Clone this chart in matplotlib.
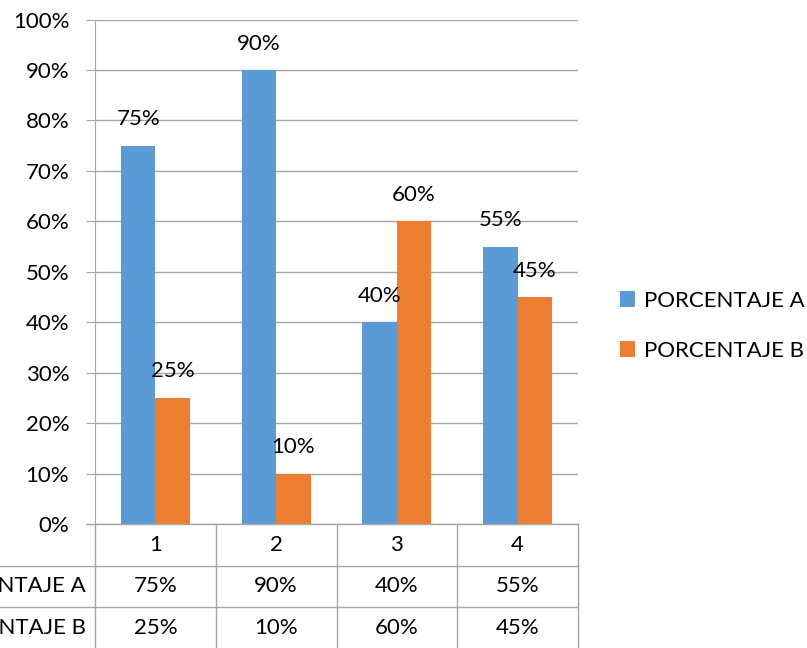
import matplotlib.pyplot as plt
import numpy as np

plt.rcParams['font.family'] = ['Lato', 'DejaVu Sans']

categorias = ['1', '2', '3', '4']
serie_a = [75, 90, 40, 55]
serie_b = [25, 10, 60, 45]
nombres = ['PORCENTAJE A', 'PORCENTAJE B']
colores = ['#5B9BD5', '#ED7D31']
gris = '#A6A6A6'
fs = 16

fig = plt.figure(figsize=(8.07, 6.48), dpi=100)
W, H = 807, 648
x0, x1, y0, y1 = 95, 578, 524, 19.5
ax = fig.add_axes([x0 / W, (H - y0) / H, (x1 - x0) / W, (y0 - y1) / H])

x = np.arange(len(categorias))
ancho = 0.2857
barras_a = ax.bar(x - ancho / 2, serie_a, ancho, color=colores[0], label=nombres[0])
barras_b = ax.bar(x + ancho / 2, serie_b, ancho, color=colores[1], label=nombres[1])

for barras, vals in [(barras_a, serie_a), (barras_b, serie_b)]:
    for b, v in zip(barras, vals):
        ax.annotate(f'{v}%', (b.get_x() + b.get_width() / 2, v), xytext=(0, 19),
                    textcoords='offset points', ha='center', va='center', fontsize=fs)

ax.set_xlim(-0.5, 3.5)
ax.set_ylim(0, 100)
ax.set_yticks(range(0, 101, 10))
ax.set_yticklabels([f'{t}%' for t in range(0, 101, 10)], fontsize=fs)
ax.set_xticks([])
ax.yaxis.grid(True, color=gris, linewidth=1)
ax.set_axisbelow(True)
for s in ['top', 'right', 'bottom']:
    ax.spines[s].set_visible(False)
ax.spines['left'].set_color(gris)
ax.tick_params(axis='y', length=6.5, color=gris, pad=12)

# tabla de datos
alto = y0 - y1
filas = [0, -(566 - y0) / alto, -(607 - y0) / alto, -(648 - y0) / alto]
izq = -x0 / (x1 - x0)
tr = ax.transAxes
for i in range(len(categorias) + 1):
    xf = i / len(categorias)
    ax.plot([xf, xf], [0, filas[3]], color=gris, lw=1, transform=tr, clip_on=False)
ax.plot([-9 / (x1 - x0), 1], [0, 0], color=gris, lw=1, transform=tr, clip_on=False)
for yf in filas[1:3]:
    ax.plot([izq, 1], [yf, yf], color=gris, lw=1, transform=tr, clip_on=False)

for i, c in enumerate(categorias):
    xc = (i + 0.5) / len(categorias)
    ax.text(xc, (filas[0] + filas[1]) / 2, c, transform=tr, ha='center', va='center', fontsize=fs)
    ax.text(xc, (filas[1] + filas[2]) / 2, f'{serie_a[i]}%', transform=tr, ha='center', va='center', fontsize=fs)
    ax.text(xc, (filas[2] + filas[3]) / 2, f'{serie_b[i]}%', transform=tr, ha='center', va='center', fontsize=fs)
for j, n in enumerate(nombres):
    ax.text(-9 / (x1 - x0), (filas[j + 1] + filas[j + 2]) / 2, n, transform=tr,
            ha='right', va='center', fontsize=fs)

ax.legend(loc='center left', bbox_to_anchor=(604 / W, (H - 326) / H), bbox_transform=fig.transFigure,
          frameon=False, fontsize=fs, handlelength=0.7, handleheight=0.7, handletextpad=0.4,
          labelspacing=1.35, borderpad=0.2)

fig.savefig('out.png', dpi=100)
